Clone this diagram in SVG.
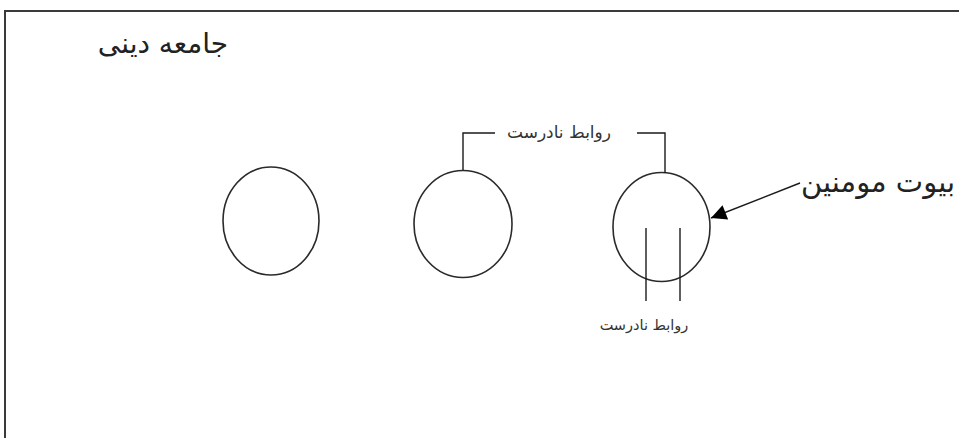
<svg xmlns="http://www.w3.org/2000/svg" width="959" height="438" viewBox="0 0 959 438">
<style>
.frame{fill:none;stroke:#3a3a3a;stroke-width:2}
.node{fill:none;stroke:#2a2a2a;stroke-width:1.6}
.conn{fill:none;stroke:#1a1a1a;stroke-width:1.4}
.big{font-family:"DejaVu Sans","Noto Sans",sans-serif;fill:#222;text-anchor:middle}
.small{font-family:"DejaVu Sans","Noto Sans",sans-serif;fill:#333;text-anchor:middle}
</style>
<defs>
<marker id="arr" viewBox="0 0 10 10" refX="10" refY="5" markerWidth="16" markerHeight="11" markerUnits="strokeWidth" orient="auto">
<path d="M0,0 L10,5 L0,10 z" fill="#000"/>
</marker>
</defs>
<rect class="frame" x="5" y="11" width="970" height="440"/>
<text class="big" x="163" y="53" font-size="28" direction="rtl">جامعه دینی</text>
<g id="node1"><ellipse class="node" cx="271" cy="221" rx="48" ry="54"/></g>
<g id="node2"><ellipse class="node" cx="463" cy="224" rx="49" ry="53.5"/></g>
<g id="node3"><ellipse class="node" cx="661.5" cy="227" rx="48.5" ry="54.5"/></g>
<g id="label-bayut"><text class="big" x="878" y="192" font-size="29" direction="rtl">بیوت مومنین</text></g>
<g id="label-top"><text class="small" x="559" y="138" font-size="17" direction="rtl">روابط نادرست</text></g>
<g id="label-bottom"><text class="small" x="644" y="330" font-size="14.5" direction="rtl">روابط نادرست</text></g>
<g id="connectors">
<polyline class="conn" points="495,133 463,133 463,170"/>
<polyline class="conn" points="637,133 665,133 665,173"/>
<line class="conn" x1="646" y1="228" x2="646" y2="301"/>
<line class="conn" x1="680" y1="228" x2="680" y2="301"/>
<line class="conn" x1="800" y1="183" x2="711" y2="218" marker-end="url(#arr)"/>
</g>
</svg>
